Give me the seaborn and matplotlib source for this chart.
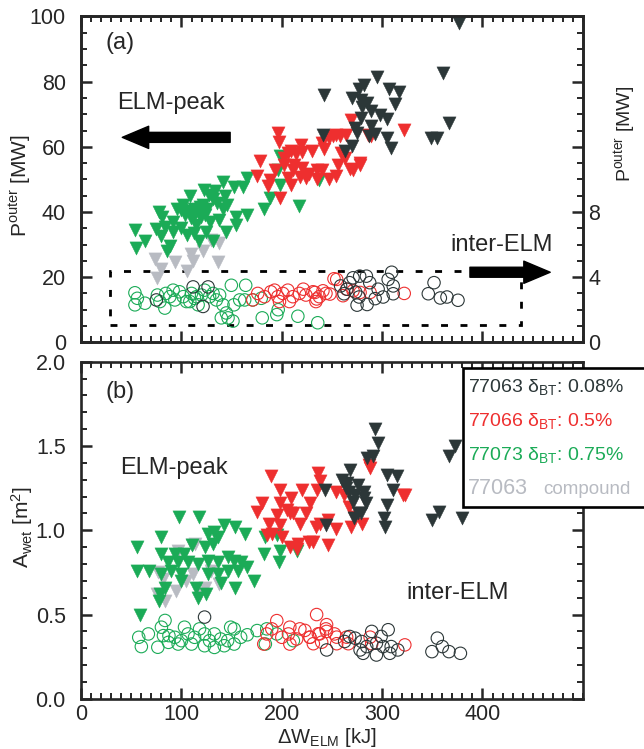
import numpy as np
import pandas as pd
import matplotlib
matplotlib.use("Agg")
import matplotlib.pyplot as plt
from matplotlib.patches import Rectangle
from matplotlib.ticker import MultipleLocator, FixedLocator, FixedFormatter
import seaborn as sns

# ---------------- data ----------------
# panel (a): ELM-peak power [MW] (left axis)
a_blk_x = [377, 361, 294.5, 282, 277, 307, 317, 242, 269.6, 278.6, 284.6, 313, 280, 288.5, 298, 305,
           278.6, 367, 273, 288.5, 275, 293, 286.5, 241, 305, 349, 355, 269.6, 263, 308.5]
a_blk_p = [98, 82.8, 81.4, 79, 77.6, 77.8, 76.8, 76, 74.9, 74.5, 73.5, 73.2, 72.2, 70.9, 69.7, 68.5,
           68.7, 67.2, 65.8, 66.3, 64.3, 63.8, 63.3, 63.6, 62.8, 62.6, 62.6, 60.3, 58.8, 59.6]
a_red_x = [268.6, 322, 289, 196, 197, 219, 240, 247, 254, 264, 209, 220, 230, 242, 178, 193, 202, 212,
           220, 235, 240, 256, 263, 268, 277.6, 271, 175.5, 188, 206, 218, 227, 235.5, 247, 254, 209,
           186.5, 198, 211, 224.5, 202, 214, 206, 259, 251, 258, 278, 286]
a_red_p = [68.1, 65.3, 63.4, 64.2, 61.5, 60.7, 61.2, 62.7, 63.5, 63.5, 58.7, 58.4, 58.7, 59.2, 55.5,
           52.8, 54.3, 54.3, 53.6, 53, 53, 54.5, 56.7, 53.2, 54.3, 52.8, 51, 49.8, 50.3, 50.8, 51.6,
           50, 50, 51, 48.3, 48, 44.4, 52.8, 50.3, 56.7, 57.7, 58.2, 58.2, 63.4, 63.4, 54.9, 63.7]
a_grn_x = [54, 55, 64, 78, 81, 75, 80, 86, 88.6, 92, 100, 96, 102, 107, 112, 116, 121, 109, 114, 123,
           117, 131, 112, 122.4, 127, 133, 141, 143, 135, 128.6, 137, 145.7, 144, 154, 152, 161, 165,
           165, 154, 182, 188, 198, 196, 198, 217.6, 236.7, 92, 84, 106, 124.5, 131, 141, 108, 110,
           118, 104, 125, 113, 100, 119]
a_grn_p = [34.5, 29, 31, 40, 38.4, 34.9, 32.5, 28, 29.5, 34, 35, 41, 42, 40.4, 41, 40, 42, 38, 36, 39,
           31, 31, 33.5, 46.8, 45.3, 46.3, 49.3, 44.9, 42.9, 37, 37.4, 42.2, 34, 36, 47.8, 47.8, 50.3,
           39, 38.4, 40.9, 44.4, 57.2, 52.8, 48.3, 41.7, 49.8, 37, 35.5, 33, 34, 44, 41, 45, 40,
           41.5, 39, 41, 39.5, 40.5, 38.5]
a_gry_x = [73.5, 80, 76, 94, 106, 109, 111.8, 121, 129, 137, 136]
a_gry_p = [25.5, 22.6, 19.6, 24.6, 22, 27, 25, 28, 31.5, 30.5, 24.6]

# panel (a): inter-ELM power [MW] (right axis)
ai_grn_x = [53.6, 56, 53.6, 63.6, 76, 78.5, 84.4, 88.4, 93.4, 98, 101.7, 105, 110, 113, 116.6, 120,
            123, 128, 131.5, 134.8, 138, 141.4, 144.7, 139.7, 146.4, 151.3, 152.3, 149.7, 164, 158,
            163, 171, 180.5, 196.4, 195, 216, 235.8, 83.4, 91.7, 108.3, 115, 179.5]
ai_grn_p = [3.04, 2.7, 2.3, 2.4, 2.9, 2.5, 3.0, 2.8, 2.6, 3.1, 2.8, 2.5, 3.0, 2.7, 2.3, 2.9, 3.2, 2.8,
            3.0, 2.6, 2.9, 2.3, 1.8, 1.5, 1.5, 1.3, 2.3, 3.5, 3.5, 2.6, 2.6, 2.6, 1.5, 2.0, 1.7, 1.6,
            1.2, 2.1, 3.2, 2.5, 2.8, 2.7]
ai_red_x = [176, 182.8, 189, 196, 201, 206, 211, 217.5, 224, 231, 237.4, 244, 252, 171, 197.7, 207.6,
            234, 192.7, 221.4, 233, 241, 254.7, 264.6, 278, 288, 322, 234.7, 248, 261, 271]
ai_red_p = [3.0, 2.8, 3.1, 2.8, 3.0, 3.2, 2.8, 3.0, 2.9, 3.1, 2.8, 3.0, 3.9, 2.6, 2.5, 2.5, 2.5, 3.2,
            3.26, 3.06, 3.16, 3.86, 3.26, 3.06, 3.06, 3.0, 2.66, 2.96, 2.86, 3.16]
ai_blk_x = [309.5, 306, 271, 277.6, 284.3, 287.6, 267.6, 296, 311, 301, 293, 277, 275, 285, 273.6, 265,
            311, 351.7, 346, 358, 364.6, 375.6, 258.6, 262, 111.6, 126.5, 75, 121.5]
ai_blk_p = [4.3, 3.86, 3.96, 4.06, 4.06, 3.66, 3.66, 3.26, 3.46, 2.78, 2.68, 2.78, 2.28, 2.32, 3.08,
            3.26, 2.98, 3.66, 2.98, 2.72, 2.78, 2.58, 3.46, 2.98, 3.4, 3.4, 2.6, 2.2]

# panel (b): ELM-peak wetted area [m^2]
b_blk_x = [292.7, 296, 291, 285, 372.6, 367, 268, 260, 264.6, 275.6, 304.6, 315, 243, 266.6, 273, 282,
           310.6, 271, 284, 305, 275.6, 279, 272.4, 301.8, 303, 244, 357, 350, 380, 264, 282]
b_blk_a = [1.60, 1.52, 1.44, 1.43, 1.50, 1.44, 1.36, 1.30, 1.28, 1.27, 1.33, 1.32, 1.24, 1.23, 1.21,
           1.23, 1.24, 1.17, 1.16, 1.15, 1.10, 1.10, 1.07, 1.07, 1.02, 1.03, 1.11, 1.06, 1.07, 1.25, 1.19]
b_red_x = [189, 197.7, 209, 198.4, 205, 211.5, 218, 195, 180, 175.4, 187, 185, 200, 208, 216, 231, 246,
           254, 237.7, 245.9, 236, 228, 219.7, 235, 254, 262, 267, 272, 280.3, 286.9, 321, 198, 190,
           208, 224.6, 234.4, 269, 238, 227, 215.6, 288, 322.6]
b_red_a = [1.32, 1.24, 1.19, 1.16, 1.12, 1.10, 1.04, 1.09, 1.16, 1.11, 1.04, 0.97, 0.96, 0.90, 0.92,
           0.93, 0.91, 1.01, 1.04, 1.06, 1.34, 1.16, 1.24, 1.24, 1.23, 1.21, 1.14, 1.08, 1.04, 1.39,
           1.21, 1.03, 0.98, 1.10, 1.10, 1.02, 1.02, 1.29, 0.93, 0.89, 1.37, 1.21]
b_grn_x = [55.7, 55.7, 67.2, 59, 79.7, 97.7, 117, 142.6, 153, 163, 126, 132.8, 136, 131, 123, 110, 103,
           93.4, 80, 86.9, 96.7, 106.5, 116.4, 126, 136, 146, 152.5, 159, 165.6, 172, 146, 156, 136,
           126, 100, 90, 80, 83.6, 78.7, 77.7, 100, 114.8, 116.4, 124.6, 153, 139, 182, 183.6, 196.7,
           195, 198, 214.8]
b_grn_a = [0.90, 0.76, 0.76, 0.50, 0.96, 1.08, 1.08, 1.03, 1.02, 0.98, 0.98, 0.99, 0.96, 0.92, 0.90,
           0.91, 0.86, 0.86, 0.86, 0.81, 0.81, 0.81, 0.80, 0.82, 0.81, 0.84, 0.82, 0.81, 0.78, 0.70,
           0.76, 0.76, 0.74, 0.74, 0.74, 0.76, 0.74, 0.66, 0.62, 0.58, 0.70, 0.66, 0.60, 0.62, 0.66,
           0.69, 0.86, 0.96, 0.81, 0.97, 0.88, 0.88]
b_gry_x = [77, 82, 75.4, 83.6, 96.7, 110, 113, 111.5, 105, 123, 129.5, 137.7, 95, 118]
b_gry_a = [0.75, 0.71, 0.62, 0.58, 0.88, 0.91, 0.92, 0.74, 0.70, 0.66, 0.76, 0.68, 0.64, 0.62]

# panel (b): inter-ELM wetted area [m^2]
bi_grn_x = [57.4, 60, 76.4, 82, 83.6, 87.5, 93.4, 100, 106.5, 113, 118, 123, 128, 132.8, 139, 146,
            152.5, 159, 165.6, 152.5, 142.6, 132.8, 123, 110, 96.7, 87, 80, 103, 149, 175.4, 185,
            195, 211.5, 183.6, 67]
bi_grn_a = [0.365, 0.31, 0.306, 0.375, 0.465, 0.375, 0.365, 0.345, 0.385, 0.365, 0.415, 0.385, 0.345,
            0.385, 0.355, 0.345, 0.415, 0.365, 0.38, 0.325, 0.315, 0.305, 0.315, 0.325, 0.325, 0.335,
            0.425, 0.425, 0.425, 0.405, 0.415, 0.385, 0.345, 0.325, 0.385]
bi_red_x = [234.7, 244.6, 244.6, 236.4, 228, 223, 231.4, 239.7, 254.7, 264.6, 266.3, 254.7, 288, 289.6,
            322.6, 190, 195, 200, 206.6, 208, 214.8, 218, 228, 237.7, 182, 185, 244, 252.5, 208]
bi_red_a = [0.50, 0.44, 0.40, 0.386, 0.366, 0.406, 0.327, 0.336, 0.366, 0.366, 0.327, 0.327, 0.366,
            0.327, 0.32, 0.415, 0.464, 0.365, 0.385, 0.325, 0.355, 0.415, 0.365, 0.385, 0.325, 0.385,
            0.415, 0.385, 0.425]
bi_blk_x = [306, 289.6, 273, 279.6, 284.6, 278, 281, 294.3, 300.9, 294.3, 307.6, 309, 315.6, 244.7,
            262.6, 355, 349.6, 360, 366.6, 378, 267.6, 299, 123]
bi_blk_a = [0.41, 0.40, 0.36, 0.34, 0.31, 0.29, 0.27, 0.33, 0.31, 0.26, 0.27, 0.31, 0.29, 0.29, 0.34,
            0.36, 0.28, 0.31, 0.28, 0.27, 0.37, 0.37, 0.485]

x_ticks = [0, 100, 200, 300, 400]
legend_lines = ["77063 δ$_{\\mathrm{BT}}$: 0.08%", "77066 δ$_{\\mathrm{BT}}$: 0.5%",
                "77073 δ$_{\\mathrm{BT}}$: 0.75%", "77063"]

# ---------------- style ----------------
C_BLK = "#2c3738"
C_RED = "#ee2f2f"
C_GRN = "#1bab57"
C_GRY = "#b8bbc2"

sns.set_style("ticks")
plt.rcParams["font.family"] = ["Liberation Sans", "DejaVu Sans"]
plt.rcParams["mathtext.fontset"] = "custom"
plt.rcParams["mathtext.rm"] = "Liberation Sans"
plt.rcParams["mathtext.it"] = "Liberation Sans:italic"
plt.rcParams["mathtext.bf"] = "Liberation Sans:bold"
plt.rcParams["axes.linewidth"] = 1.9

fig = plt.figure(figsize=(6.44, 7.49), dpi=100)
ax1 = fig.add_axes([0.126, 0.543, 0.779, 0.435])
ax2 = fig.add_axes([0.126, 0.067, 0.779, 0.450])
ax1r = ax1.twinx()

TRI = 90
CIR = 80


def tri(ax, x, y, c):
    sns.scatterplot(x=x, y=y, ax=ax, marker="v", s=TRI, color=c, edgecolor=c, linewidth=0.3, zorder=3)


def circ(ax, x, y, c):
    sns.scatterplot(x=x, y=y, ax=ax, marker="o", s=CIR, color=c, facecolors="none",
                    edgecolor=c, linewidth=0.8, zorder=3)


# panel (a)
circ(ax1r, ai_grn_x, ai_grn_p, C_GRN)
circ(ax1r, ai_red_x, ai_red_p, C_RED)
circ(ax1r, ai_blk_x, ai_blk_p, C_BLK)
tri(ax1, a_gry_x, a_gry_p, C_GRY)
tri(ax1, a_grn_x, a_grn_p, C_GRN)
tri(ax1, a_red_x, a_red_p, C_RED)
tri(ax1, a_blk_x, a_blk_p, C_BLK)

# panel (b)
circ(ax2, bi_grn_x, bi_grn_a, C_GRN)
circ(ax2, bi_red_x, bi_red_a, C_RED)
circ(ax2, bi_blk_x, bi_blk_a, C_BLK)
tri(ax2, b_gry_x, b_gry_a, C_GRY)
tri(ax2, b_grn_x, b_grn_a, C_GRN)
tri(ax2, b_red_x, b_red_a, C_RED)
tri(ax2, b_blk_x, b_blk_a, C_BLK)

TFS = 15.5
for ax in (ax1, ax2, ax1r):
    ax.set_xlim(0, 500)
    ax.xaxis.set_major_locator(FixedLocator(x_ticks))
    ax.xaxis.set_minor_locator(MultipleLocator(10))
    ax.tick_params(which="major", direction="in", length=8, width=1.8, labelsize=TFS, pad=4)
    ax.tick_params(which="minor", direction="in", length=4, width=1.4)
    ax.set_xlabel("")
    ax.set_ylabel("")
for ax in (ax1, ax2):
    ax.tick_params(axis="y", which="major", pad=11)

ax1.set_ylim(0, 100)
ax1.yaxis.set_major_locator(MultipleLocator(20))
ax1.yaxis.set_minor_locator(MultipleLocator(5))
ax1.tick_params(which="both", top=True, bottom=True, left=True, right=False, labelbottom=False)
ax1r.set_ylim(0, 20)
ax1r.yaxis.set_major_locator(FixedLocator([0, 4, 8, 12, 16, 20]))
ax1r.yaxis.set_major_formatter(FixedFormatter(["0", "4", "8", "", "", ""]))
ax1r.yaxis.set_minor_locator(MultipleLocator(1))
ax1r.tick_params(which="both", right=True, left=False, top=False, bottom=False, labelright=True)

ax2.set_ylim(0, 2.0)
ax2.yaxis.set_major_locator(MultipleLocator(0.5))
ax2.yaxis.set_minor_locator(MultipleLocator(0.1))
ax2.yaxis.set_major_formatter(plt.FormatStrFormatter("%.1f"))
ax2.tick_params(which="both", top=True, bottom=True, left=True, right=True)

for ax in (ax1, ax2, ax1r):
    for s in ax.spines.values():
        s.set_visible(True)
        s.set_linewidth(1.9)

LFS = 15
ax1.set_ylabel("$\\mathrm{P}^{\\mathrm{outer}}$ [MW]", fontsize=LFS)
ax1.yaxis.set_label_coords(-0.096, 0.48)
ax1r.set_ylabel("$\\mathrm{P}^{\\mathrm{outer}}$ [MW]", fontsize=14)
ax1r.yaxis.set_label_coords(1.058, 0.64)
ax2.set_ylabel("$\\mathrm{A}_{\\mathrm{wet}}$ [m$^{2}$]", fontsize=LFS)
ax2.yaxis.set_label_coords(-0.092, 0.51)
ax2.set_xlabel("$\\Delta\\mathrm{W}_{\\mathrm{ELM}}$ [kJ]", fontsize=14.5)
ax2.xaxis.set_label_coords(0.49, -0.08)

AFS = 17
ax1.text(0.048, 0.92, "(a)", transform=ax1.transAxes, fontsize=AFS, va="center", ha="left")
ax1.text(0.072, 0.733, "ELM-peak", transform=ax1.transAxes, fontsize=AFS, va="center", ha="left")
ax1.text(0.735, 0.30, "inter-ELM", transform=ax1.transAxes, fontsize=AFS, va="center", ha="left")
ax2.text(0.048, 0.91, "(b)", transform=ax2.transAxes, fontsize=AFS, va="center", ha="left")
ax2.text(0.078, 0.685, "ELM-peak", transform=ax2.transAxes, fontsize=AFS, va="center", ha="left")
ax2.text(0.649, 0.315, "inter-ELM", transform=ax2.transAxes, fontsize=AFS, va="center", ha="left")

arrow_style = "simple,head_length=0.95,head_width=0.8,tail_width=0.36"
ax1.annotate("", xy=(0.082, 0.629), xytext=(0.297, 0.629), xycoords="axes fraction",
             textcoords="axes fraction",
             arrowprops=dict(arrowstyle=arrow_style, color="black", mutation_scale=20, shrinkA=0, shrinkB=0))
ax1.annotate("", xy=(0.935, 0.215), xytext=(0.775, 0.215), xycoords="axes fraction",
             textcoords="axes fraction",
             arrowprops=dict(arrowstyle=arrow_style, color="black", mutation_scale=20, shrinkA=0, shrinkB=0),
             annotation_clip=False)

# dashed box around inter-ELM points
ax1.add_patch(Rectangle((28.8, 5.3), 438 - 28.8, 21.8 - 5.3, fill=False, edgecolor="black",
                        linewidth=2.0, linestyle=(0, (2.5, 4.5)), zorder=2))

# legend box
fig.patches.append(Rectangle((0.719, 0.323), 0.3, 0.186, transform=fig.transFigure, facecolor="white",
                             edgecolor="black", linewidth=1.9, zorder=10))
leg_cols = [C_BLK, C_RED, C_GRN, C_GRY]
leg_y = [0.483, 0.438, 0.393, 0.348]
leg_fs = [14, 14, 14, 15.5]
for txt, col, yy, fs in zip(legend_lines, leg_cols, leg_y, leg_fs):
    fig.text(0.727, yy, txt, color=col, fontsize=fs, va="center", ha="left", zorder=11)
fig.text(0.843, 0.346, "compound", color=C_GRY, fontsize=13.5, va="center", ha="left", zorder=11)

fig.savefig("out.png", dpi=100)
